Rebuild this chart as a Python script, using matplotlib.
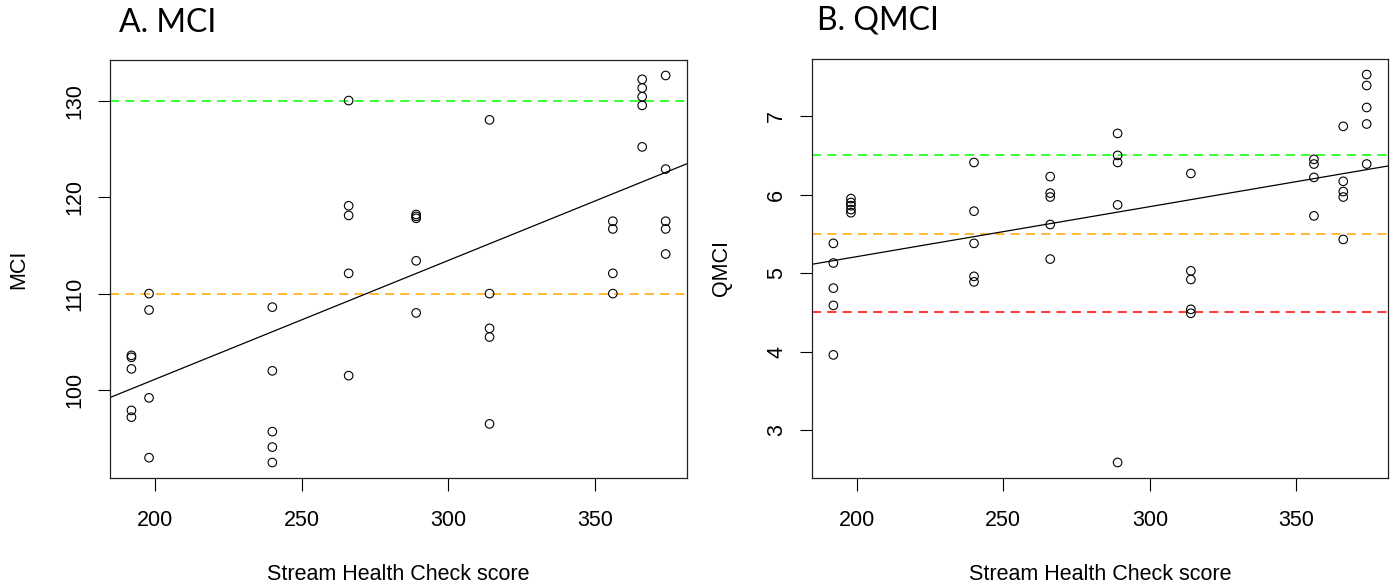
import numpy as np
from matplotlib import pyplot as plt

# Stream Health Check score for each sample
shc_mci = [192, 192, 192, 192, 192,
           198, 198, 198, 198,
           240, 240, 240, 240, 240,
           266, 266, 266, 266, 266,
           289, 289, 289, 289, 289,
           314, 314, 314, 314, 314,
           356, 356, 356, 356,
           366, 366, 366, 366, 366,
           374, 374, 374, 374, 374]
mci = [103.6, 103.4, 102.2, 97.9, 97.2,
       110.0, 108.3, 99.2, 93.0,
       108.6, 102.0, 95.7, 94.1, 92.5,
       130.0, 119.1, 118.1, 112.1, 101.5,
       118.2, 118.0, 117.8, 113.4, 108.0,
       128.0, 110.0, 106.4, 105.5, 96.5,
       117.5, 116.7, 112.1, 110.0,
       132.2, 131.3, 130.4, 129.5, 125.2,
       132.6, 122.9, 117.5, 116.7, 114.1]

shc_qmci = [192, 192, 192, 192, 192,
            198, 198, 198, 198, 198,
            240, 240, 240, 240, 240,
            266, 266, 266, 266, 266,
            289, 289, 289, 289, 289,
            314, 314, 314, 314, 314,
            356, 356, 356, 356,
            366, 366, 366, 366, 366,
            374, 374, 374, 374, 374]
qmci = [5.38, 5.13, 4.81, 4.59, 3.96,
        5.95, 5.90, 5.86, 5.81, 5.77,
        6.41, 5.79, 5.38, 4.96, 4.89,
        6.23, 6.02, 5.97, 5.62, 5.18,
        6.78, 6.50, 6.41, 5.87, 2.59,
        6.27, 5.03, 4.92, 4.54, 4.49,
        6.45, 6.39, 6.22, 5.73,
        6.87, 6.17, 6.04, 5.97, 5.43,
        7.53, 7.39, 7.11, 6.90, 6.39]

mci_lines = [(130, '#00ff00'), (110, 'orange')]
qmci_lines = [(6.5, '#00ff00'), (5.5, 'orange'), (4.5, 'red')]

mci_yticks = [100, 110, 120, 130]
qmci_yticks = [3, 4, 5, 6, 7]
xticks = [200, 250, 300, 350]

plt.rcParams['font.family'] = ['Liberation Sans', 'DejaVu Sans']

fig = plt.figure(figsize=(13.95, 5.87), dpi=100)
ax1 = fig.add_axes([0.0789, 0.1857, 0.4136, 0.7121])
ax2 = fig.add_axes([0.5821, 0.1857, 0.4129, 0.7138])


def r_limits(v):
    # R pads the data range by 4% on each side
    lo, hi = min(v), max(v)
    d = (hi - lo) * 0.04
    return lo - d, hi + d


def panel(ax, x, y, lines, yticks, ylabel):
    ax.scatter(x, y, s=38, facecolors='none', edgecolors='black', linewidths=0.8, zorder=3)
    xlim = r_limits(x)
    ax.set_xlim(xlim)
    ax.set_ylim(r_limits(y))
    for val, col in lines:
        ax.axhline(val, color=col, lw=1.1, dashes=(6, 4), zorder=2)
    # linear fit, drawn across the whole panel like abline()
    b, a = np.polyfit(x, y, 1)
    xs = np.array(xlim)
    ax.plot(xs, a + b * xs, color='black', lw=0.9, zorder=2)

    ax.set_xticks(xticks)
    ax.set_yticks(yticks)
    ax.tick_params(axis='both', direction='out', length=9, width=0.8, labelsize=15.5)
    ax.tick_params(axis='x', pad=14)
    ax.tick_params(axis='y', pad=9, labelrotation=90)
    for lab in ax.get_yticklabels():
        lab.set_va('center')
    for sp in ax.spines.values():
        sp.set_linewidth(0.9)
        sp.set_color('#222222')
    ax.set_xlabel('Stream Health Check score', fontsize=15.5)
    ax.xaxis.set_label_coords(0.5, -0.205)
    ax.set_ylabel(ylabel, fontsize=15.5, va='center')
    ax.yaxis.set_label_coords(-0.158, 0.5)


panel(ax1, shc_mci, mci, mci_lines, mci_yticks, 'MCI')
panel(ax2, shc_qmci, qmci, qmci_lines, qmci_yticks, 'QMCI')

fig.text(119 / 1395, 1 - 23 / 587, 'A. MCI', ha='left', va='center', fontsize=23, family='Lato')
fig.text(817 / 1395, 1 - 21 / 587, 'B. QMCI', ha='left', va='center', fontsize=23, family='Lato')

plt.savefig('out.png', dpi=100)
plt.close()
